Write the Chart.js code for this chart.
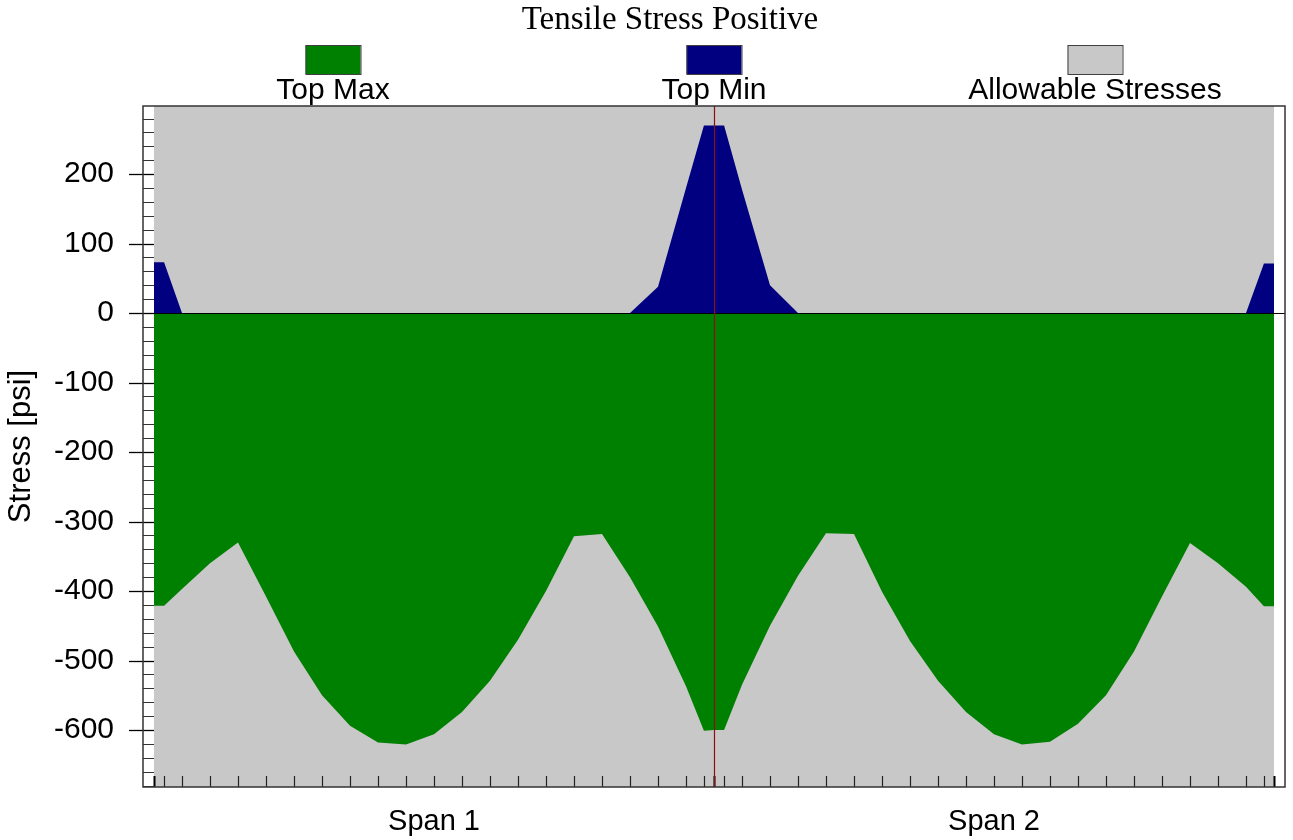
<!DOCTYPE html>
<html>
<head>
<meta charset="utf-8">
<script src="https://cdn.jsdelivr.net/npm/chart.js@4"></script>
<style>
  html, body { margin: 0; padding: 0; background: #ffffff; }
  #wrap { width: 1293px; height: 840px; }
</style>
</head>
<body>
<div id="wrap"><canvas id="c" width="1293" height="840"></canvas></div>
<script>
// Stations along the two spans (span length = 100 units each)
const stations = [
  0, 1.8, 5, 10, 15, 20, 25, 30, 35, 40, 45, 50, 55, 60, 65, 70, 75, 80, 85, 90, 95, 98.2, 100,
  101.8, 105, 110, 115, 120, 125, 130, 135, 140, 145, 150, 155, 160, 165, 170, 175, 180, 185, 190, 195, 198.2, 200
];

// Top fibre stress, maximum envelope [psi]
const topMax = [
  -421, -421, -397, -360, -330, -408, -487, -550, -594, -618, -621, -606, -574, -529, -470, -400, -321, -318, -380, -451, -537, -601, -600,
  -600, -535, -450, -378, -317, -318, -401, -472, -529, -574, -606, -621, -617, -591, -550, -487, -408, -331, -360, -394, -422, -422
];

// Top fibre stress, minimum envelope [psi]
const topMin = [
  73, 73, 0, 0, 0, 0, 0, 0, 0, 0, 0, 0, 0, 0, 0, 0, 0, 0, 0, 38, 180, 270, 270,
  270, 178, 40, 0, 0, 0, 0, 0, 0, 0, 0, 0, 0, 0, 0, 0, 0, 0, 0, 0, 71.5, 71.5
];

// Allowable tension limit [psi]
const allowable = stations.map(() => 424);

const supports = [0, 100, 200];
const spanCenters = [50, 150];
const spanLabels = ['Span 1', 'Span 2'];
const yTicks = [-600, -500, -400, -300, -200, -100, 0, 100, 200];
const chartTitle = 'Tensile Stress Positive';

const pts = (ys) => stations.map((x, i) => ({ x: x, y: ys[i] }));

// Title plus legend (swatch above label), drawn above the plot area
const headerPlugin = {
  id: 'header',
  afterDraw(chart) {
    const ctx = chart.ctx;
    const area = chart.chartArea;
    ctx.save();
    ctx.fillStyle = '#000';
    ctx.font = '33px "Liberation Serif", "Times New Roman", serif';
    ctx.textAlign = 'center';
    ctx.textBaseline = 'alphabetic';
    ctx.fillText(chartTitle, 670, 29);

    const mid = (area.left + area.right) / 2;
    const gap = 381;
    chart.data.datasets.forEach((ds, i) => {
      const cx = mid + (i - 1) * gap;
      ctx.fillStyle = ds.backgroundColor;
      ctx.fillRect(cx - 27.5, 45, 55, 29);
      ctx.strokeStyle = '#404040';
      ctx.lineWidth = 1;
      ctx.strokeRect(cx - 27.5 + 0.5, 45.5, 55, 29);
      ctx.fillStyle = '#000';
      ctx.font = '30px "Liberation Sans", Arial, sans-serif';
      ctx.fillText(ds.label, cx, 99);
    });
    ctx.restore();
  }
};

// Frame, zero line, support line and tick marks
const overlayPlugin = {
  id: 'overlay',
  afterDatasetsDraw(chart) {
    const ctx = chart.ctx;
    const a = chart.chartArea;
    const xs = chart.scales.x;
    const ys = chart.scales.y;
    const x0 = xs.getPixelForValue(supports[0]);
    ctx.save();

    // y ticks: minor every 20, major every 100
    for (let v = Math.ceil(ys.min / 20) * 20; v <= ys.max; v += 20) {
      const y = Math.round(ys.getPixelForValue(v)) + 0.5;
      const major = v % 100 === 0;
      ctx.strokeStyle = major ? '#000' : '#333';
      ctx.lineWidth = major ? 1.3 : 1;
      ctx.beginPath();
      ctx.moveTo(major ? a.left - 14 : a.left, y);
      ctx.lineTo(x0, y);
      ctx.stroke();
    }

    // zero line
    const yz = Math.round(ys.getPixelForValue(0)) + 0.5;
    ctx.strokeStyle = '#000';
    ctx.lineWidth = 1.2;
    ctx.beginPath();
    ctx.moveTo(a.left, yz);
    ctx.lineTo(a.right, yz);
    ctx.stroke();

    // x ticks at each station
    stations.forEach((s) => {
      const x = Math.round(xs.getPixelForValue(s)) + 0.5;
      const bold = supports.includes(s);
      ctx.strokeStyle = bold ? '#000' : '#222';
      ctx.lineWidth = bold ? 2 : 1.2;
      ctx.beginPath();
      ctx.moveTo(x, a.bottom);
      ctx.lineTo(x, a.bottom - 11);
      ctx.stroke();
    });

    // interior support
    const xs1 = Math.round(xs.getPixelForValue(supports[1])) + 0.5;
    ctx.strokeStyle = '#8B1010';
    ctx.lineWidth = 1.2;
    ctx.beginPath();
    ctx.moveTo(xs1, a.top);
    ctx.lineTo(xs1, a.bottom);
    ctx.stroke();

    // frame
    ctx.strokeStyle = '#333';
    ctx.lineWidth = 1.5;
    ctx.strokeRect(a.left, a.top, a.right - a.left, a.bottom - a.top);
    ctx.restore();
  }
};

Chart.defaults.font.family = '"Liberation Sans", Arial, sans-serif';
Chart.defaults.color = '#000';

new Chart(document.getElementById('c'), {
  type: 'line',
  data: {
    datasets: [
      { label: 'Top Max', data: pts(topMax), backgroundColor: '#008000', borderWidth: 0, fill: 'origin', pointRadius: 0, tension: 0 },
      { label: 'Top Min', data: pts(topMin), backgroundColor: '#000080', borderWidth: 0, fill: 'origin', pointRadius: 0, tension: 0 },
      { label: 'Allowable Stresses', data: pts(allowable), backgroundColor: '#C8C8C8', borderWidth: 0, fill: 'start', pointRadius: 0, tension: 0 }
    ]
  },
  options: {
    responsive: false,
    animation: false,
    events: [],
    layout: { padding: { top: 106, right: 8, left: 0, bottom: 0 } },
    plugins: {
      legend: { display: false },
      title: { display: false },
      tooltip: { enabled: false }
    },
    scales: {
      x: {
        type: 'linear',
        min: -1.964,
        max: 201.964,
        grid: { display: false, drawTicks: false },
        border: { display: false },
        afterBuildTicks: (s) => { s.ticks = spanCenters.map(v => ({ value: v })); },
        afterFit: (s) => { s.height = 53; },
        ticks: {
          autoSkip: false,
          maxRotation: 0,
          padding: 18,
          font: { size: 29 },
          callback: (v, i) => spanLabels[i]
        }
      },
      y: {
        type: 'linear',
        min: -682,
        max: 298,
        grid: { display: false, drawTicks: false },
        border: { display: false },
        afterBuildTicks: (s) => { s.ticks = yTicks.map(v => ({ value: v })); },
        afterFit: (s) => { s.width = 143; },
        ticks: { padding: 29, font: { size: 30 } },
        title: { display: true, text: 'Stress [psi]', font: { size: 31 }, padding: { top: 3, bottom: 0 } }
      }
    }
  },
  plugins: [overlayPlugin, headerPlugin]
});
</script>
</body>
</html>
